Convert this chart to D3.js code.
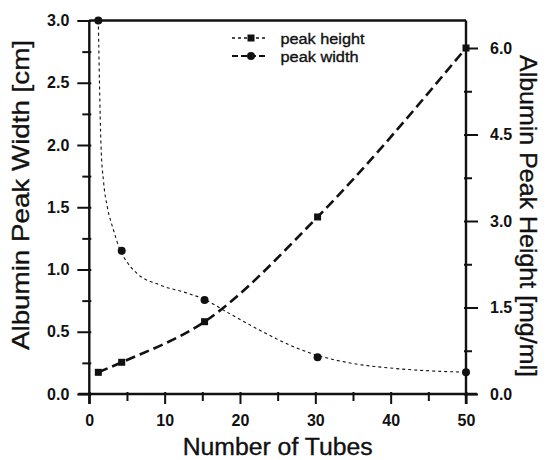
<!DOCTYPE html>
<html>
<head>
<meta charset="utf-8">
<script src="https://cdn.jsdelivr.net/npm/d3@7/dist/d3.min.js"></script>
<style>
  html, body { margin: 0; padding: 0; background: #fff; }
  svg { display: block; }
  text { font-family: "Liberation Sans", Arial, Helvetica, sans-serif; fill: #111; }
  .heavy { stroke: #111; stroke-width: 0.35px; }
</style>
</head>
<body>
<svg id="chart" width="546" height="460"></svg>
<script>
// ---- data ----
const tubes = [1.2, 4.3, 15.3, 30.3, 50];
const peakWidth = [3.0, 1.15, 0.755, 0.295, 0.175];      // cm, left axis (circles)
const peakHeight = [0.376, 0.55, 1.254, 3.07, 6.0];      // mg/ml, right axis (squares)
// fitted curve drawn through the peak width points
const widthFitTubes = [1.2, 1.35, 1.55, 1.9, 2.4, 3.2, 4.0, 5.0, 6.3, 9.4, 13, 15.3, 18.2, 22.7, 27.1, 30.3, 35, 40.4, 50];
const widthFitValues = [3.0, 2.5, 2.0, 1.7, 1.5, 1.32, 1.17, 1.06, 0.97, 0.875, 0.81, 0.76, 0.66, 0.51, 0.38, 0.31, 0.245, 0.206, 0.175];
const xMajorTicks = [0, 10, 20, 30, 40, 50];
const xMinorTicks = [5, 15, 25, 35, 45];
const leftMajorTicks = [0, 0.5, 1.0, 1.5, 2.0, 2.5, 3.0];
const leftMinorTicks = [0.25, 0.75, 1.25, 1.75, 2.25, 2.75];
const rightMajorTicks = [0, 1.5, 3.0, 4.5, 6.0];
const rightMinorTicks = [0.75, 2.25, 3.75, 5.25];
const legendLabels = ["peak height", "peak width"];
const xTitle = "Number of Tubes";
const leftTitle = "Albumin Peak Width [cm]";
const rightTitle = "Albumin Peak Height [mg/ml]";

const svg = d3.select("#chart");
const ink = "#111";

const x = d3.scaleLinear().domain([0, 50]).range([89.3, 466]);
const yL = d3.scaleLinear().domain([0, 3]).range([394, 20.5]);
const yR = d3.scaleLinear().domain([0, 6]).range([394, 48]);

const fmt = d3.format(".1f");

function styleAxis(g, fontSize) {
  g.select(".domain").remove();
  g.selectAll(".tick line").attr("stroke", ink).attr("stroke-width", 2);
  g.selectAll(".tick text").attr("fill", ink).style("font-size", fontSize + "px").style("font-weight", "bold");
}

// bottom axis
svg.append("g").attr("transform", `translate(0,${yL(0)})`)
  .call(d3.axisBottom(x).tickValues(xMajorTicks).tickSize(10).tickPadding(11).tickFormat(d3.format("d")))
  .call(g => styleAxis(g, 16))
  .call(g => g.selectAll(".tick line").attr("y1", -2));
svg.append("g").attr("transform", `translate(0,${yL(0)})`)
  .call(d3.axisBottom(x).tickValues(xMinorTicks).tickSize(7).tickFormat(""))
  .call(g => styleAxis(g, 16))
  .call(g => g.selectAll(".tick line").attr("y1", -2));

// left axis
svg.append("g").attr("transform", `translate(${x(0)},0)`)
  .call(d3.axisLeft(yL).tickValues(leftMajorTicks).tickSize(12).tickPadding(8).tickFormat(fmt))
  .call(g => styleAxis(g, 16))
  .call(g => g.selectAll(".tick line").attr("x1", 2));
svg.append("g").attr("transform", `translate(${x(0)},0)`)
  .call(d3.axisLeft(yL).tickValues(leftMinorTicks).tickSize(7).tickFormat(""))
  .call(g => styleAxis(g, 16))
  .call(g => g.selectAll(".tick line").attr("x1", 2));

// right axis
svg.append("g").attr("transform", `translate(${x(50)},0)`)
  .call(d3.axisRight(yR).tickValues(rightMajorTicks).tickSize(12).tickPadding(12).tickFormat(fmt))
  .call(g => styleAxis(g, 16))
  .call(g => g.selectAll(".tick line").attr("x1", -2));
svg.append("g").attr("transform", `translate(${x(50)},0)`)
  .call(d3.axisRight(yR).tickValues(rightMinorTicks).tickSize(6).tickFormat(""))
  .call(g => styleAxis(g, 16))
  .call(g => g.selectAll(".tick line").attr("x1", -2));

// frame / axis lines
const frame = svg.append("g").attr("stroke", ink).attr("stroke-width", 2.4).attr("fill", "none");
frame.append("line").attr("x1", x(0) - 11).attr("x2", x(50) + 11).attr("y1", yL(0)).attr("y2", yL(0));
frame.append("line").attr("x1", x(0)).attr("x2", x(50)).attr("y1", yL(3)).attr("y2", yL(3));
frame.append("line").attr("x1", x(0)).attr("x2", x(0)).attr("y1", yL(3)).attr("y2", yL(0) + 10);
frame.append("line").attr("x1", x(50)).attr("x2", x(50)).attr("y1", yL(3)).attr("y2", yL(0) + 10);

// peak width fitted curve (thin dotted)
const widthFit = widthFitTubes.map((t, i) => [t, widthFitValues[i]]);
svg.append("path")
  .datum(widthFit)
  .attr("fill", "none").attr("stroke", ink).attr("stroke-width", 1.1)
  .attr("stroke-dasharray", "3,3")
  .attr("d", d3.line().x(d => x(d[0])).y(d => yL(d[1])).curve(d3.curveMonotoneX));

// peak height curve (thick dashed)
const heightData = tubes.map((t, i) => [t, peakHeight[i]]);
svg.append("path")
  .datum(heightData)
  .attr("fill", "none").attr("stroke", ink).attr("stroke-width", 2.6)
  .attr("stroke-dasharray", "10,5")
  .attr("d", d3.line().x(d => x(d[0])).y(d => yR(d[1])).curve(d3.curveMonotoneX));

// markers
const widthData = tubes.map((t, i) => [t, peakWidth[i]]);
svg.append("g").selectAll("circle").data(widthData).join("circle")
  .attr("cx", d => x(d[0])).attr("cy", d => yL(d[1])).attr("r", 4).attr("fill", ink);
svg.append("g").selectAll("rect").data(heightData).join("rect")
  .attr("x", d => x(d[0]) - 3.5).attr("y", d => yR(d[1]) - 3.5)
  .attr("width", 7).attr("height", 7).attr("fill", ink);

// legend
const legend = svg.append("g");
const legRows = [38, 56];
const legDash = ["3,3", "6,3"];
const legWidth = [1.4, 2];
legendLabels.forEach((lab, i) => {
  const yy = legRows[i];
  legend.append("line").attr("x1", 232).attr("x2", 268).attr("y1", yy).attr("y2", yy)
    .attr("stroke", ink).attr("stroke-width", legWidth[i]).attr("stroke-dasharray", legDash[i]);
  if (i === 0) {
    legend.append("rect").attr("x", 247.5).attr("y", yy - 3.5).attr("width", 7).attr("height", 7).attr("fill", ink);
  } else {
    legend.append("circle").attr("cx", 251).attr("cy", yy).attr("r", 4).attr("fill", ink);
  }
  legend.append("text").attr("class", "heavy").attr("x", 280.5).attr("y", yy + 5.5)
    .style("font-size", "15.5px").attr("textLength", i === 0 ? 84 : 78)
    .attr("lengthAdjust", "spacingAndGlyphs").text(lab);
});

// titles
svg.append("text").attr("class", "heavy").attr("x", (x(0) + x(50)) / 2).attr("y", 455)
  .attr("text-anchor", "middle").style("font-size", "23px")
  .attr("textLength", 190).attr("lengthAdjust", "spacingAndGlyphs").text(xTitle);
svg.append("text").attr("class", "heavy").attr("transform", "translate(29,195) rotate(-90)")
  .attr("text-anchor", "middle").style("font-size", "24px")
  .attr("textLength", 310).attr("lengthAdjust", "spacingAndGlyphs").text(leftTitle);
svg.append("text").attr("class", "heavy").attr("transform", "translate(520,216) rotate(90)")
  .attr("text-anchor", "middle").style("font-size", "24px")
  .attr("textLength", 322).attr("lengthAdjust", "spacingAndGlyphs").text(rightTitle);
</script>
</body>
</html>
